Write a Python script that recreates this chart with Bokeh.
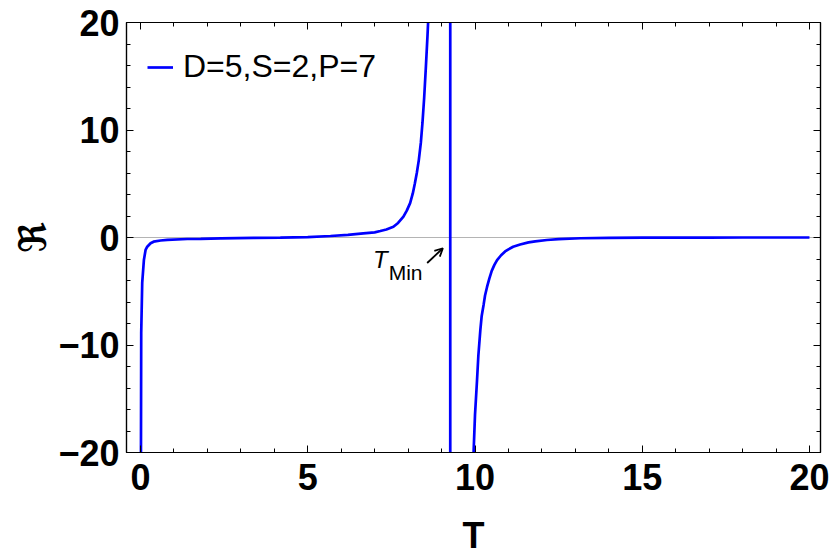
from bokeh.plotting import figure
from bokeh.models import (Range1d, LinearAxis, FixedTicker, Span, Label, Arrow, OpenHead,
                          Legend, LegendItem, CustomJSTickFormatter)
from bokeh.embed import file_html
from bokeh.resources import INLINE

# ---- data ----
T_left = [0.005, 0.02, 0.05, 0.1, 0.15, 0.2, 0.3, 0.39, 0.6, 0.8, 1.4, 1.8, 2.4, 3.38,
          4.18, 5.0, 5.68, 6.2, 6.66, 7.0, 7.17, 7.35, 7.56, 7.7, 7.86, 7.96, 8.06, 8.14,
          8.2, 8.26, 8.32, 8.38, 8.43, 8.48, 8.53, 8.58, 8.62, 8.65]
R_left = [-30, -8.9, -4.2, -2.1, -1.16, -0.86, -0.54, -0.39, -0.28, -0.22, -0.14, -0.12,
          -0.08, -0.03, -0.02, 0.03, 0.14, 0.25, 0.39, 0.48, 0.6, 0.75, 1.0, 1.35, 1.94,
          2.5, 3.2, 4.1, 5.0, 6.0, 7.2, 8.8, 10.7, 13.0, 15.8, 18.8, 21.5, 24.0]
T_min = 9.26
R_jump = [-25, 25]
T_right = [9.92, 9.96, 10.0, 10.06, 10.1, 10.16, 10.2, 10.26, 10.3, 10.36, 10.43, 10.5,
           10.58, 10.66, 10.78, 10.9, 11.0, 11.14, 11.35, 11.6, 11.8, 12.15, 12.5, 13.15,
           14.0, 15.0, 16.0, 17.0, 18.0, 19.0, 20.0]
R_right = [-25, -19.8, -16.5, -13.3, -11.0, -8.6, -7.3, -6.2, -5.4, -4.6, -3.8, -3.1,
           -2.55, -2.1, -1.65, -1.3, -1.1, -0.86, -0.65, -0.45, -0.36, -0.23, -0.16, -0.07,
           -0.04, -0.02, -0.01, -0.01, 0.0, 0.0, 0.0]

series_label = "D=5,S=2,P=7"
x_major = [0, 5, 10, 15, 20]
x_minor = [1, 2, 3, 4, 6, 7, 8, 9, 11, 12, 13, 14, 16, 17, 18, 19]
y_major = [-20, -10, 0, 10, 20]
y_minor = [-18, -16, -14, -12, -8, -6, -4, -2, 2, 4, 6, 8, 12, 14, 16, 18]
y_tick_labels = {-20: "\u221220", -10: "\u221210"}

# annotation positions (data units)
tmin_T_pos = (6.95, -2.0)
tmin_sub_pos = (7.42, -3.25)
arrow_start = (8.57, -2.37)
arrow_end = (9.04, -1.0)

FONT = "Liberation Sans"

p = figure(width=830, height=558, x_range=Range1d(-0.42, 20.33), y_range=Range1d(-20, 20),
           output_backend="svg", toolbar_location=None,
           min_border_left=126, min_border_right=10, min_border_top=22, min_border_bottom=106,
           x_axis_label="T", y_axis_label="\u211c")
p.grid.visible = False
p.outline_line_color = "black"
p.outline_line_width = 1.2
p.background_fill_color = "white"
p.border_fill_color = "white"

p.add_layout(Span(location=0, dimension="width", line_color="#b4b4b4", line_width=1,
                  level="underlay"))

r = p.multi_line(xs=[T_left, [T_min, T_min], T_right], ys=[R_left, R_jump, R_right],
                 line_color="#0000ff", line_width=2.7)


def style(ax):
    ax.axis_line_color = "black"
    ax.axis_line_width = 1.2
    ax.major_tick_in = 7
    ax.major_tick_out = 0
    ax.minor_tick_in = 4
    ax.minor_tick_out = 0
    ax.major_tick_line_color = "black"
    ax.minor_tick_line_color = "black"
    ax.major_label_text_font = FONT
    ax.major_label_text_font_style = "bold"
    ax.major_label_text_font_size = "36px"
    ax.major_label_text_color = "black"


xa = p.xaxis[0]
ya = p.yaxis[0]
xa.ticker = FixedTicker(ticks=x_major, minor_ticks=x_minor)
ya.ticker = FixedTicker(ticks=y_major, minor_ticks=y_minor)
style(xa)
style(ya)
ya.major_label_overrides = y_tick_labels
xa.major_label_standoff = 11
ya.major_label_standoff = 7
xa.axis_label_text_font = FONT
xa.axis_label_text_font_style = "bold"
xa.axis_label_text_font_size = "36px"
xa.axis_label_text_color = "black"
xa.axis_label_standoff = 22
ya.axis_label_text_font = "DejaVu Sans"
ya.axis_label_text_font_style = "bold"
ya.axis_label_text_font_size = "38px"
ya.axis_label_text_color = "black"
ya.axis_label_standoff = 0

blank = CustomJSTickFormatter(code="return ''")
top = LinearAxis(ticker=FixedTicker(ticks=x_major, minor_ticks=x_minor), formatter=blank)
right = LinearAxis(ticker=FixedTicker(ticks=y_major, minor_ticks=y_minor), formatter=blank)
for ax in (top, right):
    style(ax)
    ax.major_label_text_font_size = "0px"
    ax.major_label_standoff = 0
    ax.axis_label_standoff = 0
p.add_layout(top, "above")
p.add_layout(right, "right")

legend = Legend(items=[LegendItem(label=series_label, renderers=[r])], location=(21, 367),
                glyph_width=26, label_standoff=10, padding=0, margin=0, spacing=0,
                label_text_font=FONT, label_text_font_size="32px",
                label_text_color="black",
                border_line_color=None, background_fill_alpha=0)
p.add_layout(legend)

p.add_layout(Label(x=tmin_T_pos[0], y=tmin_T_pos[1], text="T", text_font=FONT,
                   text_font_style="italic", text_font_size="24px", text_color="black",
                   text_baseline="alphabetic", text_align="left"))
p.add_layout(Label(x=tmin_sub_pos[0], y=tmin_sub_pos[1], text="Min", text_font=FONT,
                   text_font_size="21px", text_color="black",
                   text_baseline="alphabetic", text_align="left"))
p.add_layout(Arrow(x_start=arrow_start[0], y_start=arrow_start[1],
                   x_end=arrow_end[0], y_end=arrow_end[1], line_width=1.8,
                   end=OpenHead(size=8, line_width=1.8)))

open("out.html", "w").write(file_html(p, INLINE))
